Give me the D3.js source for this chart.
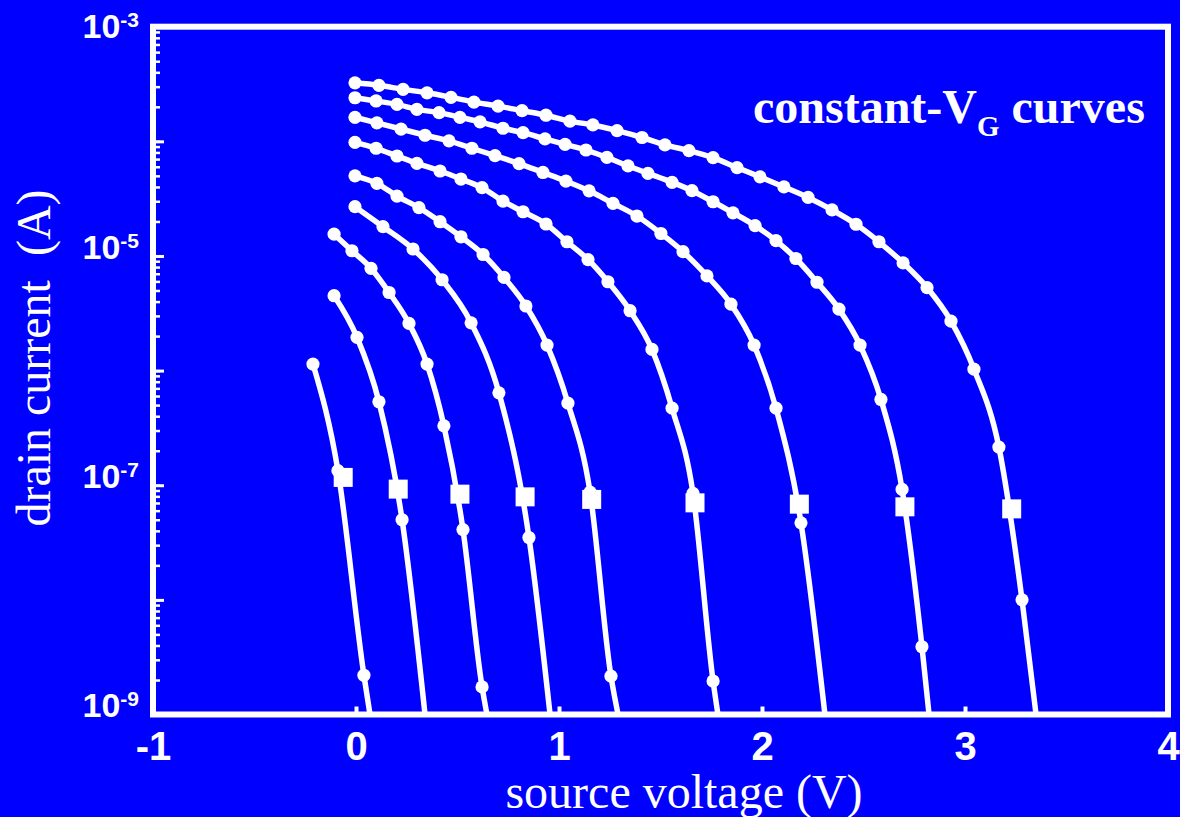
<!DOCTYPE html>
<html>
<head>
<meta charset="utf-8">
<script src="https://cdn.jsdelivr.net/npm/d3@7"></script>
<style>
  body { margin: 0; background: #0000ff; }
  svg { display: block; }
  text { fill: #fff; }
</style>
</head>
<body>
<div id="chart"></div>
<script>
// measured points, [source voltage (V), drain current (A)], one array per gate voltage
const curve1 = [[-0.212, 1.14e-6], [-0.089, 1.34e-7], [0.039, 2.2e-9]];
const curve2 = [[-0.108, 4.5e-6], [0.005, 1.95e-6], [0.113, 5.35e-7], [0.227, 5.0e-8]];
const curve3 = [[-0.108, 1.55e-5], [-0.020, 1.11e-5], [0.074, 7.8e-6], [0.163, 4.8e-6], [0.261, 2.58e-6],
  [0.350, 1.14e-6], [0.433, 3.3e-7], [0.527, 4.1e-8], [0.621, 1.74e-9]];
const curve4 = [[-0.005, 2.69e-5], [0.133, 1.80e-5], [0.281, 1.15e-5], [0.424, 6.2e-6], [0.567, 2.61e-6],
  [0.704, 6.4e-7], [0.852, 3.5e-8]];
const curve5 = [[-0.005, 5.0e-5], [0.103, 4.3e-5], [0.202, 3.33e-5], [0.310, 2.64e-5], [0.414, 1.99e-5],
  [0.517, 1.47e-5], [0.626, 1.03e-5], [0.729, 6.5e-6], [0.837, 3.66e-6], [0.941, 1.67e-6], [1.044, 5.2e-7],
  [1.153, 8.7e-8], [1.256, 2.16e-9]];
const curve6 = [[-0.005, 9.8e-5], [0.099, 8.7e-5], [0.202, 7.45e-5], [0.300, 6.43e-5], [0.414, 5.51e-5],
  [0.517, 4.69e-5], [0.621, 3.94e-5], [0.724, 3.01e-5], [0.823, 2.43e-5], [0.936, 1.90e-5], [1.039, 1.33e-5],
  [1.143, 9.3e-6], [1.241, 5.96e-6], [1.350, 3.33e-6], [1.458, 1.53e-6], [1.557, 4.7e-7], [1.660, 8.5e-8],
  [1.759, 1.96e-9]];
const curve7 = [[-0.005, 1.62e-4], [0.103, 1.45e-4], [0.222, 1.28e-4], [0.340, 1.13e-4], [0.458, 1.01e-4],
  [0.571, 8.7e-5], [0.685, 7.5e-5], [0.803, 6.4e-5], [0.921, 5.35e-5], [1.034, 4.5e-5], [1.148, 3.7e-5],
  [1.266, 2.88e-5], [1.384, 2.23e-5], [1.502, 1.57e-5], [1.611, 1.09e-5], [1.729, 6.7e-6], [1.847, 3.8e-6],
  [1.961, 1.67e-6], [2.069, 4.7e-7], [2.192, 4.7e-8]];
const curve8 = [[-0.005, 2.40e-4], [0.099, 2.25e-4], [0.202, 2.10e-4], [0.300, 1.90e-4], [0.409, 1.78e-4],
  [0.512, 1.62e-4], [0.611, 1.48e-4], [0.724, 1.30e-4], [0.823, 1.19e-4], [0.931, 1.05e-4], [1.030, 9.4e-5],
  [1.133, 8.4e-5], [1.236, 7.25e-5], [1.340, 6.1e-5], [1.438, 5.26e-5], [1.557, 4.39e-5], [1.655, 3.71e-5],
  [1.759, 2.97e-5], [1.857, 2.38e-5], [1.966, 1.84e-5], [2.069, 1.36e-5], [2.167, 9.5e-6], [2.271, 5.9e-6],
  [2.379, 3.44e-6], [2.483, 1.67e-6], [2.586, 5.6e-7], [2.690, 9.2e-8], [2.788, 3.9e-9]];
const curve9 = [[-0.005, 3.24e-4], [0.113, 3.08e-4], [0.232, 2.84e-4], [0.350, 2.65e-4], [0.468, 2.42e-4],
  [0.581, 2.20e-4], [0.700, 2.03e-4], [0.818, 1.85e-4], [0.936, 1.69e-4], [1.054, 1.50e-4], [1.167, 1.39e-4],
  [1.286, 1.24e-4], [1.409, 1.08e-4], [1.522, 9.3e-5], [1.640, 8.3e-5], [1.759, 7.2e-5], [1.877, 5.9e-5],
  [1.990, 4.9e-5], [2.108, 4.0e-5], [2.227, 3.24e-5], [2.345, 2.52e-5], [2.463, 1.89e-5], [2.576, 1.33e-5],
  [2.695, 8.7e-6], [2.813, 5.3e-6], [2.931, 2.7e-6], [3.044, 1.03e-6], [3.167, 2.15e-7], [3.281, 1.0e-8]];
const curves = [curve1, curve2, curve3, curve4, curve5, curve6, curve7, curve8, curve9];

// where each curve leaves the bottom of the plot
const endV = [0.069, 0.340, 0.645, 0.956, 1.291, 1.783, 2.310, 2.823, 3.350];
const floorI = 1e-9;

// threshold points (squares)
const thresholdV = [-0.063, 0.208, 0.512, 0.833, 1.161, 1.670, 2.184, 2.704, 3.230];
const thresholdI = [1.17e-7, 9.25e-8, 8.36e-8, 7.92e-8, 7.52e-8, 7.02e-8, 6.84e-8, 6.48e-8, 6.22e-8];

const xTicks = [-1, 0, 1, 2, 3, 4];
const yLabelExps = [-3, -5, -7, -9];

const width = 1180, height = 817;
const margin = {top: 26.7, right: 12, bottom: 102.5, left: 153};
const plotW = width - margin.left - margin.right;
const plotH = height - margin.top - margin.bottom;

const svg = d3.select("#chart")
  .append("svg")
  .attr("width", width)
  .attr("height", height);

svg.append("rect")
  .attr("width", width)
  .attr("height", height)
  .attr("fill", "#0000ff");

const g = svg.append("g")
  .attr("transform", `translate(${margin.left},${margin.top})`);

const x = d3.scaleLinear().domain([-1, 4]).range([0, plotW]);
const y = d3.scaleLog().domain([1e-9, 1e-3]).range([plotH, 0]);

g.append("clipPath")
  .attr("id", "plot-clip")
  .append("rect")
  .attr("width", plotW)
  .attr("height", plotH);

const line = d3.line()
  .x(d => x(d[0]))
  .y(d => y(d[1]))
  .curve(d3.curveMonotoneX);

const plot = g.append("g").attr("clip-path", "url(#plot-clip)");

plot.selectAll(".curve")
  .data(curves.map((c, i) => c.concat([[endV[i], floorI]])))
  .enter()
  .append("path")
  .attr("class", "curve")
  .attr("d", line)
  .attr("fill", "none")
  .attr("stroke", "#fff")
  .attr("stroke-width", 5.5);

plot.selectAll(".dot")
  .data(curves.flat())
  .enter()
  .append("circle")
  .attr("class", "dot")
  .attr("cx", d => x(d[0]))
  .attr("cy", d => y(d[1]))
  .attr("r", 6.6)
  .attr("fill", "#fff");

const sq = 19;
plot.selectAll(".threshold")
  .data(thresholdV.map((v, i) => [v, thresholdI[i]]))
  .enter()
  .append("rect")
  .attr("class", "threshold")
  .attr("x", d => x(d[0]) - sq / 2)
  .attr("y", d => y(d[1]) - sq / 2)
  .attr("width", sq)
  .attr("height", sq)
  .attr("fill", "#fff");

// inward ticks on the left axis: minor, then majors longer
const majors = d3.range(-9, -2).map(e => Math.pow(10, e));
g.append("g")
  .call(d3.axisLeft(y).tickValues(y.ticks()).tickSize(-7).tickFormat(""))
  .call(a => a.select(".domain").remove())
  .selectAll("line").attr("stroke", "#fff").attr("stroke-width", 2.5);
g.append("g")
  .call(d3.axisLeft(y).tickValues(majors).tickSize(-11).tickFormat(""))
  .call(a => a.select(".domain").remove())
  .selectAll("line").attr("stroke", "#fff").attr("stroke-width", 3);

// y labels with superscript exponents
const yLabels = g.append("g")
  .selectAll(".ylabel")
  .data(yLabelExps)
  .enter()
  .append("text")
  .attr("class", "ylabel")
  .attr("x", -14)
  .attr("y", d => Math.max(y(Math.pow(10, d)) + 3, 11))
  .attr("text-anchor", "end")
  .style("font-family", "'Liberation Sans', Arial, sans-serif")
  .style("font-weight", "bold");
yLabels.append("tspan").style("font-size", "34px").text("10");
yLabels.append("tspan").style("font-size", "21px").attr("dy", -11).text(d => String(d));

// bottom axis, ticks pointing up into the plot
const xAxis = g.append("g")
  .attr("transform", `translate(0,${plotH})`)
  .call(d3.axisBottom(x).tickValues(xTicks).tickSize(-8).tickPadding(17).tickFormat(d => String(d)));
xAxis.select(".domain").remove();
xAxis.selectAll("line").attr("stroke", "#fff").attr("stroke-width", 4);
xAxis.selectAll("text")
  .attr("fill", "#fff")
  .style("font-family", "'Liberation Sans', Arial, sans-serif")
  .style("font-weight", "bold")
  .style("font-size", "40px");

// frame
g.append("rect")
  .attr("width", plotW)
  .attr("height", plotH)
  .attr("fill", "none")
  .attr("stroke", "#fff")
  .attr("stroke-width", 6);

svg.append("text")
  .attr("x", 684)
  .attr("y", 808)
  .attr("text-anchor", "middle")
  .style("font-family", "'Liberation Serif', 'Times New Roman', serif")
  .style("font-size", "48px")
  .text("source voltage (V)");

svg.append("text")
  .attr("transform", "translate(50,358) rotate(-90)")
  .attr("text-anchor", "middle")
  .style("font-family", "'Liberation Serif', 'Times New Roman', serif")
  .style("font-size", "48px")
  .style("white-space", "pre")
  .text("drain current  (A)");

const note = svg.append("text")
  .attr("x", 753)
  .attr("y", 123)
  .style("font-family", "'Liberation Serif', 'Times New Roman', serif")
  .style("font-weight", "bold")
  .style("font-size", "48px")
  .style("white-space", "pre");
note.append("tspan").text("constant-V");
note.append("tspan").attr("dy", 13).style("font-size", "29px").text("G");
note.append("tspan").attr("dy", -13).text(" curves");
</script>
</body>
</html>
